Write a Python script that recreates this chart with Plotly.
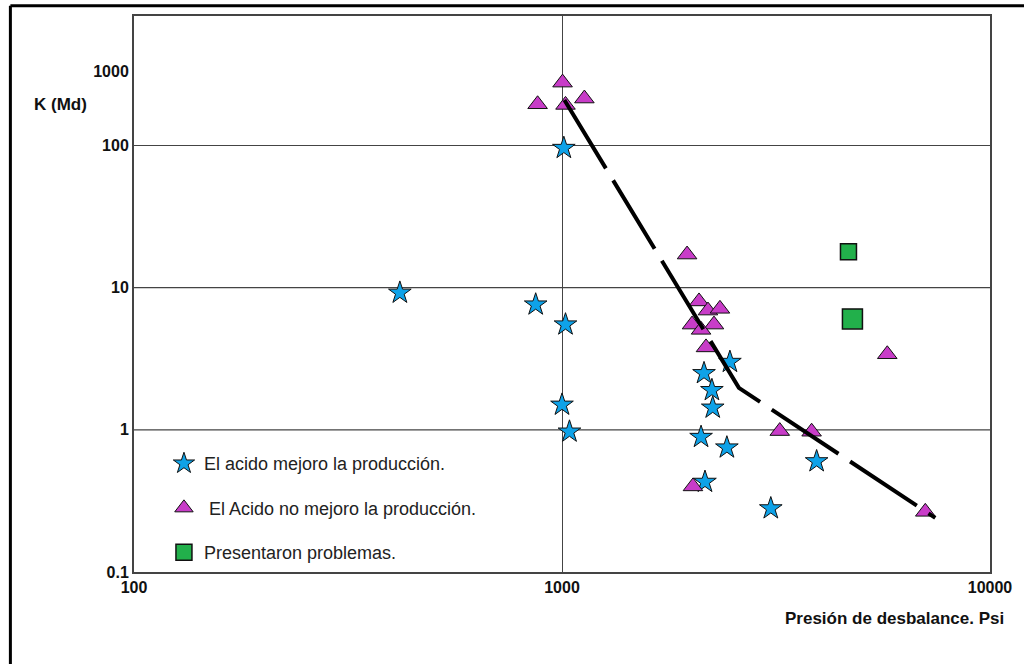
import plotly.graph_objects as go

# ---- data ----
star_x = [418, 868, 1019, 1000, 1041, 1010, 2468, 2147, 2240, 2250, 2113, 2428, 2158, 3935, 3075]
star_y = [9.2, 7.6, 5.5, 1.5, 0.97, 96, 3.0, 2.5, 1.9, 1.43, 0.89, 0.75, 0.43, 0.60, 0.28]

tri_x = [1003, 877, 1019, 1128, 1960, 2090, 2193, 2339, 2013, 2265, 2113, 2170, 5754, 3227, 3830, 7060, 2023]
tri_y = [277, 195, 193, 214, 17.1, 8.0, 6.9, 7.1, 5.5, 5.5, 5.05, 3.8, 3.4, 0.98, 0.97, 0.265, 0.40]

sq_x = [4670, 4771]
sq_y = [17.9, 6.03]

trend_x = [1013, 2590, 7450]
trend_y = [209, 1.975, 0.24]

x_tickvals = [100, 1000, 10000]
x_ticktext = ["100", "1000", "10000"]
y_tickvals = [0.1, 1, 10, 100, 330]
y_ticktext = ["0.1", "1", "10", "100", "1000"]
y_gridvals = [1, 10, 100]

names = ["El acido mejoro la producción.",
         " El Acido no mejoro la producción.",
         "Presentaron problemas."]

FONT = "Liberation Sans, Arial, sans-serif"

fig = go.Figure()
fig.add_trace(go.Scatter(
    x=star_x, y=star_y, mode="markers", name=names[0], legendgroup="a",
    marker=dict(symbol="star", size=17, color="#0ea2e8", opacity=1,
                line=dict(color="#111", width=1))))
fig.add_trace(go.Scatter(
    x=tri_x, y=tri_y, mode="markers", name=names[1], legendgroup="b",
    marker=dict(symbol="triangle-up", size=17, color="#c83cc8", opacity=1,
                line=dict(color="#111", width=1))))
fig.add_trace(go.Scatter(
    x=sq_x, y=sq_y, mode="markers", name=names[2], legendgroup="c",
    marker=dict(symbol="square", size=[16, 20], color="#22b04b", opacity=1,
                line=dict(color="#111", width=1.5))))
fig.add_trace(go.Scatter(
    x=trend_x, y=trend_y, mode="lines", showlegend=False, hoverinfo="skip",
    line=dict(color="black", width=4, dash="80px,14px")))

tick_font = dict(family=FONT, size=16, color="#111")

fig.update_xaxes(
    type="log", range=[2, 4], tickvals=x_tickvals,
    ticktext=["<b>%s</b>" % t for t in x_ticktext],
    showgrid=True, gridcolor="#444", gridwidth=1.2, zeroline=False,
    showline=True, linecolor="#444", linewidth=2, mirror=True, ticks="",
    tickfont=tick_font)
fig.update_yaxes(
    type="log", range=[-1, 2.911], tickvals=y_tickvals,
    ticktext=["<b>%s</b>" % t for t in y_ticktext],
    showgrid=False, zeroline=False,
    showline=True, linecolor="#444", linewidth=2, mirror=True, ticks="",
    tickfont=tick_font)

shapes = []
for g in y_gridvals:
    shapes.append(dict(type="line", xref="paper", yref="y", x0=0, x1=1, y0=g, y1=g,
                       line=dict(color="#444", width=1.2), layer="below"))
# outer frame of the figure
shapes.append(dict(type="line", xref="paper", yref="paper", x0=-0.1444, x1=1.05, y0=1.0185, y1=1.0185,
                   line=dict(color="black", width=3)))
shapes.append(dict(type="line", xref="paper", yref="paper", x0=-0.1444, x1=-0.1444, y0=1.0185, y1=-0.2,
                   line=dict(color="black", width=3)))

fig.update_layout(
    width=1024, height=664,
    margin=dict(l=134, r=31, t=16, b=92),
    paper_bgcolor="white", plot_bgcolor="white",
    shapes=shapes,
    showlegend=True,
    legend=dict(x=0.035, y=0.228, xanchor="left", yanchor="top",
                bgcolor="rgba(0,0,0,0)", tracegroupgap=18,
                font=dict(family=FONT, size=18, color="#222")),
    annotations=[
        dict(text="<b>K (Md)</b>", xref="paper", yref="paper", x=-0.1187, y=0.84,
             xanchor="left", yanchor="middle", showarrow=False,
             font=dict(family=FONT, size=17, color="#111")),
        dict(text="<b>Presión de desbalance. Psi</b>", xref="paper", yref="paper", x=1.0186, y=-0.083,
             xanchor="right", yanchor="middle", showarrow=False,
             font=dict(family=FONT, size=17, color="#111")),
    ],
)

fig.write_html("out.html", config={"displayModeBar": False},
               post_script="document.body.style.margin='0';")
